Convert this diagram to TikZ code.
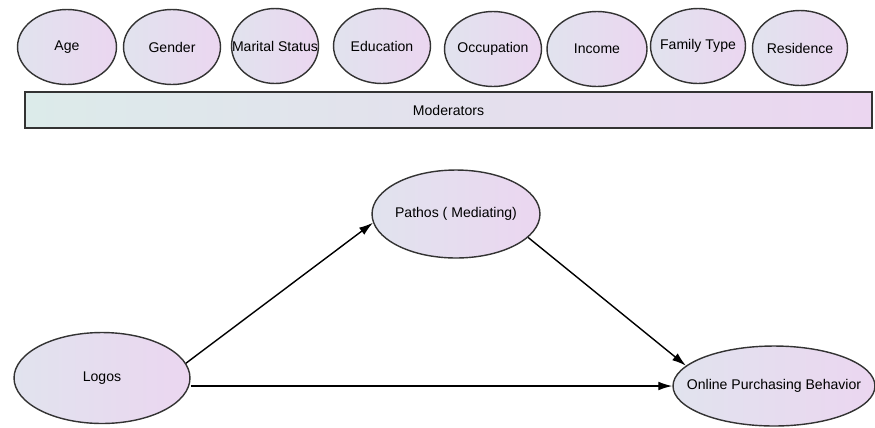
\documentclass[tikz,border=0pt]{standalone}
\usepackage{fontspec}
\setmainfont{Liberation Sans}
\usetikzlibrary{shapes.geometric,arrows.meta}

\definecolor{ovleft}{HTML}{E1E3EE}
\definecolor{ovright}{HTML}{EBD6F0}
\definecolor{barleft}{HTML}{DCEBEA}
\def\pxu{0.569pt}
% text that does not widen its ellipse
\newcommand{\ovtext}[1]{\makebox[0pt]{#1}}

\begin{document}
\begin{tikzpicture}[x=0.02cm,y=-0.02cm]

      \useasboundingbox (0,0) rectangle (875,427);

      \begin{scope}[every node/.style={ellipse,draw=black!80,thick,inner sep=0pt,
          left color=ovleft,right color=ovright,font=\fontsize{8}{9.5}\selectfont}]
        \node[minimum width=99*\pxu,minimum height=75*\pxu] (age)  at (67,47)  {\ovtext{Age}};
        \node[minimum width=97*\pxu,minimum height=75*\pxu] (gen)  at (172,47) {\ovtext{Gender}};
        \node[minimum width=87*\pxu,minimum height=75*\pxu] (mar)  at (275,46) {\ovtext{Marital Status}};
        \node[minimum width=97*\pxu,minimum height=75*\pxu] (edu)  at (382,46) {\ovtext{Education}};
        \node[minimum width=97*\pxu,minimum height=75*\pxu] (occ)  at (493,49) {\ovtext{Occupation}};
        \node[minimum width=100*\pxu,minimum height=75*\pxu] (inc) at (597,49) {\ovtext{Income}};
        \node[minimum width=95*\pxu,minimum height=75*\pxu] (fam)  at (698,46) {\ovtext{Family Type}};
        \node[minimum width=95*\pxu,minimum height=75*\pxu] (res)  at (800,48) {\ovtext{Residence}};

        \node[minimum width=168*\pxu,minimum height=88*\pxu] (pat) at (456,214) {\ovtext{Pathos ( Mediating)}};
        \node[minimum width=176*\pxu,minimum height=91*\pxu] (log) at (102,378) {\ovtext{Logos}};
        \node[minimum width=202*\pxu,minimum height=80*\pxu] (opb) at (774,386) {\ovtext{Online Purchasing Behavior}};
      \end{scope}

      \node[draw=black!80,thick,rectangle,inner sep=0pt,left color=barleft,right color=ovright,
        minimum width=847*\pxu,minimum height=36*\pxu,font=\fontsize{8}{9.5}\selectfont] (mod) at (448.5,110) {Moderators};

      \begin{scope}[every edge/.style={draw,thick,-{Latex[length=8pt,width=5pt]}}]
        \path (log.10) edge (pat.186);
        \path (log.east |- opb.west) edge (opb.west);
        \path (pat.-18) edge (opb.167);
      \end{scope}

    \end{tikzpicture}
\end{document}
